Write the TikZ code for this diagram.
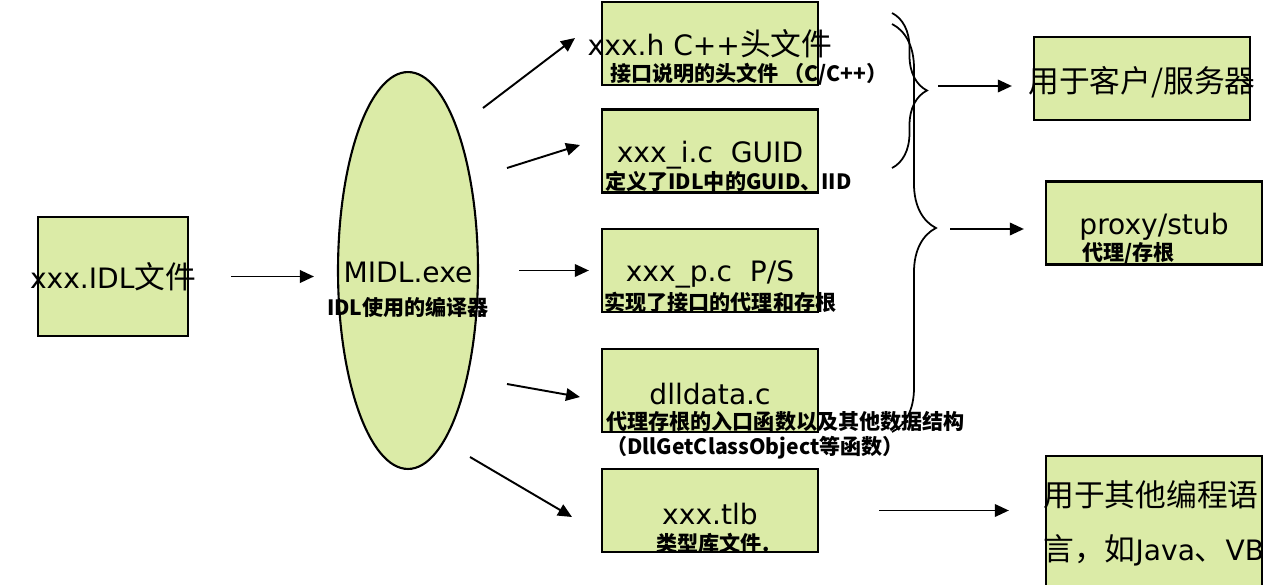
\documentclass[tikz,border=0pt]{standalone}
\usepackage{fontspec}
\setmainfont{DejaVu Sans}
\newfontfamily\cjk{Noto Sans CJK SC}
\usepackage{tikz}
\usetikzlibrary{shapes.geometric,arrows.meta,decorations.pathreplacing,calc}
\definecolor{boxgreen}{RGB}{219,235,167}
\newcommand{\zh}[1]{{\cjk\fontsize{17.5pt}{21pt}\selectfont #1}}
\tikzset{
  filebox/.style={rectangle,draw=black,line width=1.3pt,fill=boxgreen,
    minimum width=4.32cm,minimum height=1.66cm,inner sep=0pt},
  exebox/.style={ellipse,draw=black,line width=1.2pt,fill=boxgreen,
    minimum width=2.8cm,minimum height=7.94cm,inner sep=0pt},
  bigtxt/.style={font=\fontsize{16pt}{19pt}\selectfont,inner sep=0pt},
  boxtxt/.style={bigtxt,yshift=-0.08cm},
  smalltxt/.style={font=\cjk\bfseries\fontsize{12pt}{14pt}\selectfont,inner sep=0pt},
  arrow/.style={-{Triangle[length=0.28cm,width=0.25cm]},line width=1.1pt},
  bracket/.style={decorate,line width=1pt,decoration={brace,amplitude=#1}},
}

\begin{document}
\begin{tikzpicture}[x=0.02cm,y=-0.02cm]
  \useasboundingbox (0,0) rectangle (1272,585);
  % source and compiler
  \node[filebox,minimum width=3cm,minimum height=2.38cm] (idl) at (113,276.5) {};
  \node[bigtxt] (idltxt) at (idl) {xxx.IDL\zh{文件}};
  \node[exebox] (midl) at (408,270.5) {};
  \node[bigtxt]   (midltxt) at (408,272) {MIDL.exe};
  \node[smalltxt] (midlsub) at (408,307) {IDL使用的编译器};

  % generated files
  \node[filebox] (hbox)   at (710,43.5)  {};
  \node[filebox] (ibox)   at (710,151)   {};
  \node[filebox] (pbox)   at (710,270.5) {};
  \node[filebox] (dllbox) at (710,390.5) {};
  \node[filebox] (tlbbox) at (710,510.5) {};
  \node[bigtxt] (htxt)   at (hbox)   {xxx.h C++\zh{头文件}};
  \node[boxtxt] (itxt)   at (ibox)   {xxx\_i.c\ \ GUID};
  \node[boxtxt] (ptxt)   at (pbox)   {xxx\_p.c\ \ P/S};
  \node[boxtxt] (dlltxt) at (dllbox) {dlldata.c};
  \node[boxtxt] (tlbtxt) at (tlbbox) {xxx.tlb};
  \node[smalltxt,anchor=west] (hsub)  at (610,74)  {接口说明的头文件\ （C/C++）};
  \node[smalltxt,anchor=west] (isub)  at (605,181) {定义了IDL中的GUID、IID};
  \node[smalltxt,anchor=west] (psub)  at (604,302) {实现了接口的代理和存根};
  \node[smalltxt,anchor=west] (dsub1) at (606,421) {代理存根的入口函数以及其他数据结构};
  \node[smalltxt,anchor=west] (dsub2) at (606,448) {（DllGetClassObject等函数）};
  \node[smalltxt] (tsub) at (713,543) {类型库文件.};

  % usage
  \node[filebox] (csbox) at (1142,78.5) {};
  \node[filebox] (pxbox) at (1154,223)  {};
  \node[filebox,minimum height=2.88cm] (obox) at (1154,528) {};
  \node[boxtxt] (cstxt) at (csbox) {\zh{用于客户/服务器}};
  \node[boxtxt] (pxtxt) at (pxbox) {proxy/stub};
  \node[smalltxt,anchor=west] (pxsub) at (1082,253) {代理/存根};
  \node[bigtxt,anchor=west] (otxt1) at (1043,495) {\zh{用于其他编程语}};
  \node[bigtxt,anchor=west] (otxt2) at (1043,550) {\zh{言，如}Java\zh{、}VB};

  % braces
  \draw[bracket=0.7cm]  (892,13) -- (892,168);
  \draw[bracket=0.88cm] (892,24) -- (892,432);
  \coordinate (b1tip) at (927,86);
  \coordinate (b2tip) at (936,229);

  % arrow ends
  \coordinate (mh) at (483,108); \coordinate (hin) at (575,38);
  \coordinate (mi) at (507,168); \coordinate (iin) at (580,145);
  \coordinate (md) at (507,384); \coordinate (din) at (580,397);
  \coordinate (mt) at (470,457); \coordinate (tin) at (572,517);

  \draw[arrow,shorten <=0.84cm,shorten >=0.46cm] (idl.east) -- (idl.east -| midl.west);
  \draw[arrow] (mh) -- (hin);
  \draw[arrow] (mi) -- (iin);
  \draw[arrow,shorten <=0.8cm,shorten >=0.24cm] (midl.east) -- (pbox.west);
  \draw[arrow] (md) -- (din);
  \draw[arrow] (mt) -- (tin);
  \draw[arrow,shorten <=0.22cm,shorten >=0.42cm] (b1tip) -- (b1tip -| csbox.west);
  \draw[arrow,shorten <=0.28cm,shorten >=0.42cm] (b2tip) -- (b2tip -| pxbox.west);
  \draw[arrow,shorten <=1.2cm,shorten >=0.72cm] (tlbbox.east) -- (tlbbox.east -| obox.west);
\end{tikzpicture}
\end{document}
